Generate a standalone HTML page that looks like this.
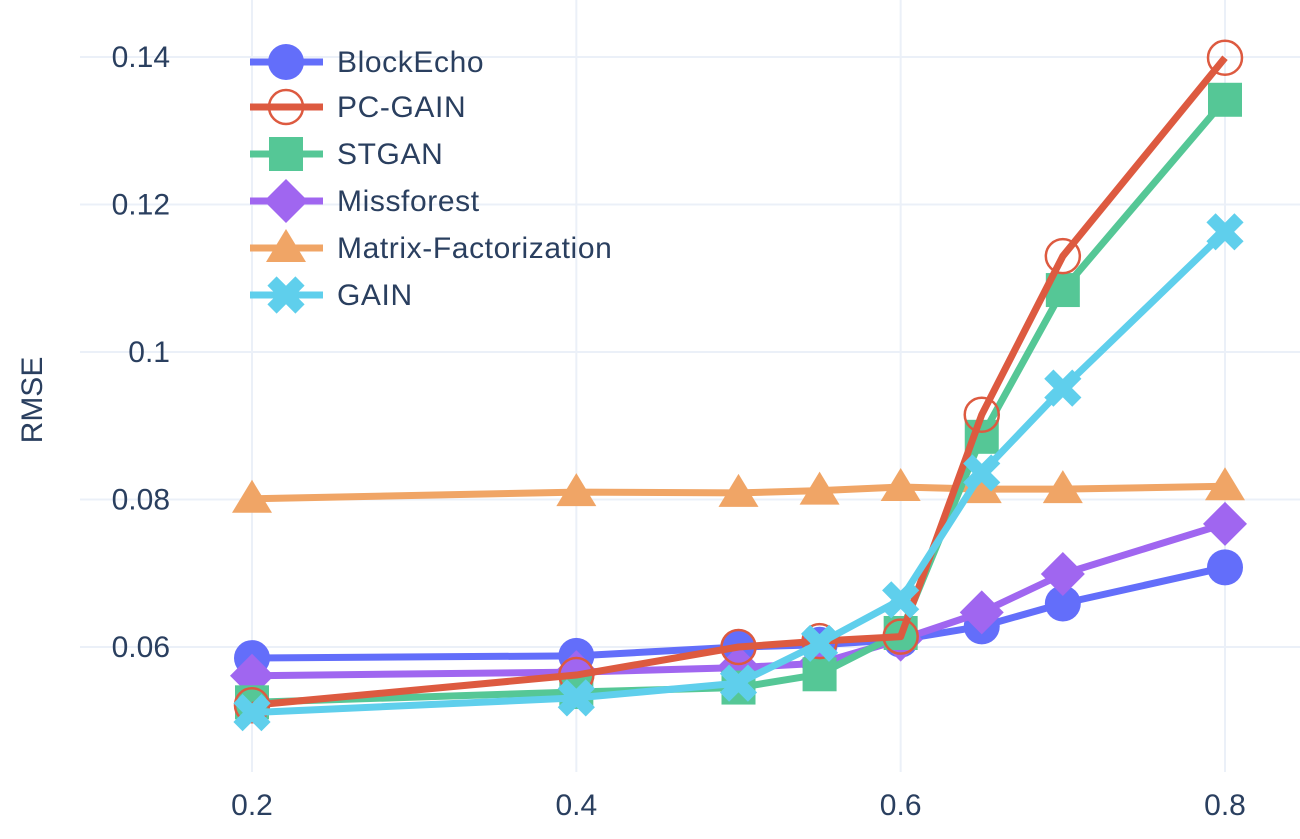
<!DOCTYPE html>
<html><head><meta charset="utf-8"><style>
body{margin:0;background:#fff;font-family:"Liberation Sans",sans-serif}
</style></head><body>
<svg id="chart" width="1300" height="834" xmlns="http://www.w3.org/2000/svg">
<g id="grid"></g><g id="series"></g><g id="axes"></g><g id="legend"></g>
</svg>
<script>
const xValues=[0.2,0.4,0.5,0.55,0.6,0.65,0.7,0.8];
const xTicks=[0.2,0.4,0.6,0.8];
const yTicks=[0.06,0.08,0.1,0.12,0.14];
const yTickLabels=["0.06","0.08","0.1","0.12","0.14"];
const seriesNames=["BlockEcho","PC-GAIN","STGAN","Missforest","Matrix-Factorization","GAIN"];
const blockEcho=[0.0585,0.0588,0.0600,0.0603,0.0610,0.0628,0.0659,0.0708];
const pcGain=[0.0521,0.0562,0.0600,0.0608,0.0614,0.0915,0.1130,0.1399];
const stgan=[0.0525,0.0539,0.0545,0.0563,0.0619,0.0885,0.1084,0.1342];
const missforest=[0.0561,0.0566,0.0572,0.0578,0.0610,0.0647,0.0699,0.0767];
const matrixFact=[0.0801,0.0810,0.0809,0.0812,0.0817,0.0814,0.0814,0.0818];
const gain=[0.0511,0.0531,0.0551,0.0605,0.0664,0.0836,0.0951,0.1163];

const NS="http://www.w3.org/2000/svg";
function X(v){return 252+(v-0.2)*(1225-252)/0.6;}
function Y(v){return 647-(v-0.06)*(647-57)/0.08;}
function mk(tag,attrs,parent){const e=document.createElementNS(NS,tag);for(const k in attrs)e.setAttribute(k,attrs[k]);parent.appendChild(e);return e;}
const grid=document.getElementById('grid'),axes=document.getElementById('axes'),ser=document.getElementById('series'),leg=document.getElementById('legend');
xTicks.forEach(t=>{
 const l=mk('line',{x1:X(t),x2:X(t),y1:0,y2:772,stroke:'#ebf0f8','stroke-width':2},grid);
 
 
 const tx=mk('text',{x:X(t),y:815,'text-anchor':'middle','font-size':30,fill:'#2a3f5f'},axes);
 tx.textContent=String(t);
 
 
});
yTicks.forEach((t,i)=>{
 const l=mk('line',{x1:80,x2:1300,y1:Y(t),y2:Y(t),stroke:'#ebf0f8','stroke-width':2},grid);
 
 
 const tx=mk('text',{x:170,y:Y(t)+10,'text-anchor':'end','font-size':30,fill:'#2a3f5f'},axes);
 tx.textContent=yTickLabels[i];
 
 
});
const yt=mk('text',{x:0,y:0,transform:'translate(42,400) rotate(-90)','text-anchor':'middle','font-size':30,fill:'#2a3f5f'},axes);
yt.textContent='RMSE';



const cols=['#636efa','#dd5a40','#55c796','#a066f0','#f0a566','#5fcfec'];
const symbols=['circle','circle-open','square','diamond','triangle','x'];
const data=[blockEcho,pcGain,stgan,missforest,matrixFact,gain];
function marker(sym,cx,cy,c,p){
 let e;
 if(sym==='circle')e=mk('circle',{cx,cy,r:18,fill:c},p);
 else if(sym==='circle-open')e=mk('circle',{cx,cy,r:17,fill:'none',stroke:c,'stroke-width':2.5},p);
 else if(sym==='square')e=mk('rect',{x:cx-17,y:cy-17,width:34,height:34,fill:c},p);
 else if(sym==='diamond')e=mk('path',{d:`M${cx} ${cy-22}L${cx+22} ${cy}L${cx} ${cy+22}L${cx-22} ${cy}Z`,fill:c},p);
 else if(sym==='triangle')e=mk('path',{d:`M${cx} ${cy-19}L${cx+20} ${cy+14}L${cx-20} ${cy+14}Z`,fill:c},p);
 else {e=mk('g',{},p);const d=14;
  mk('path',{d:`M${cx-d} ${cy-d}L${cx+d} ${cy+d}M${cx+d} ${cy-d}L${cx-d} ${cy+d}`,stroke:c,'stroke-width':13,'stroke-linecap':'butt'},e);}
 return e;
}
const order=[4,0,3,2,1,5];
order.forEach(i=>{
 const g=mk('g',{},ser);
 
 
 const pts=xValues.map((x,j)=>X(x)+','+Y(data[i][j])).join(' ');
 const pl=mk('polyline',{points:pts,fill:'none',stroke:cols[i],'stroke-width':7,'stroke-linejoin':'round'},g);
 
 
 xValues.forEach((x,j)=>{
  const m=marker(symbols[i],X(x),Y(data[i][j]),cols[i],g);
  
  
 });
});
const ly=[62,107,154,201,248,295];
seriesNames.forEach((n,i)=>{
 const g=mk('g',{},leg);
 
 
 mk('line',{x1:250,x2:323,y1:ly[i],y2:ly[i],stroke:cols[i],'stroke-width':7},g);
 marker(symbols[i],286,ly[i],cols[i],g);
 const t=mk('text',{x:337,y:ly[i]+10,'font-size':30,'letter-spacing':0.6,fill:'#2a3f5f'},g);
 t.textContent=n;
});
</script>
</body></html>
